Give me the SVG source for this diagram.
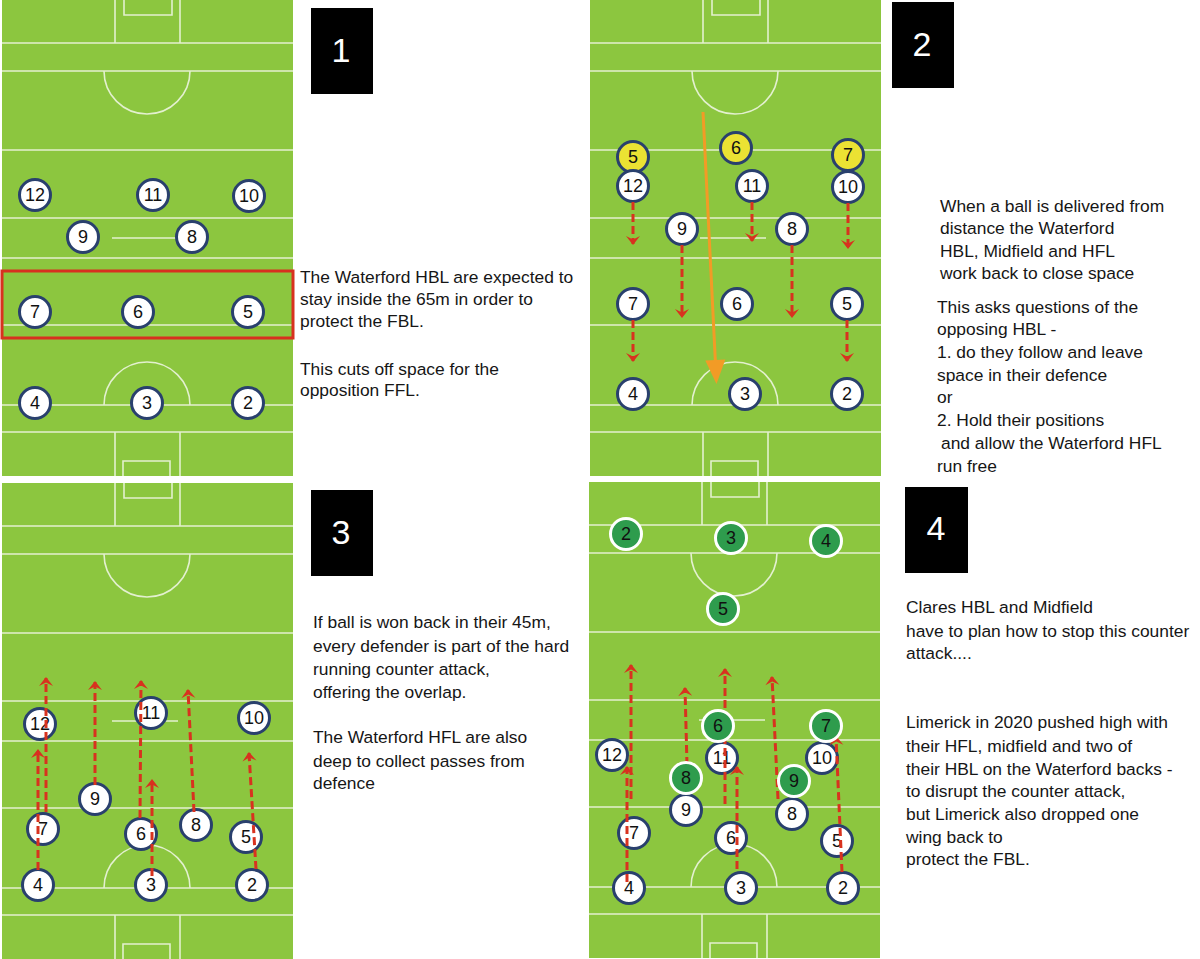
<svg xmlns="http://www.w3.org/2000/svg" xmlns:xlink="http://www.w3.org/1999/xlink" width="1200" height="959" viewBox="0 0 1200 959">
<style>
.bg{fill:#ffffff}
.turf{fill:#8cc63f}
.pl{stroke:#e3f0cf;stroke-width:1.6;fill:none}
.w circle{fill:#ffffff;stroke:#29406d;stroke-width:3}
.y circle{fill:#ebe233;stroke:#29406d;stroke-width:3}
.g circle{fill:#2e9c4d;stroke:#ffffff;stroke-width:3}
.num{font-family:"Liberation Sans",Arial,sans-serif;font-size:18px;fill:#111;text-anchor:middle}
.ra{stroke:#d8321f;stroke-width:3;stroke-dasharray:8 4;fill:none;marker-end:url(#chev)}
.oa{stroke:#f29b26;stroke-width:3;fill:none;marker-end:url(#oarr)}
.box{fill:#000}
.boxn{font-family:"Liberation Sans",Arial,sans-serif;font-size:34px;fill:#fff;text-anchor:middle}
.txt{font-family:"Liberation Sans",Arial,sans-serif;font-size:17.4px;fill:#161616}
</style>
<defs>
<marker id="chev" viewBox="-10 -8 12 16" refX="0" refY="0" markerWidth="12" markerHeight="16" markerUnits="userSpaceOnUse" orient="auto">
<path d="M1,0 L-8,-7 L-4.5,0 L-8,7 Z" fill="#d8321f"/>
</marker>
<marker id="oarr" viewBox="-15 -11 26 22" refX="0" refY="0" markerWidth="26" markerHeight="22" markerUnits="userSpaceOnUse" orient="auto">
<path d="M10,0 L-14,-10 L-14,10 Z" fill="#f29b26"/>
</marker>
<g id="pitch">
<rect class="turf" x="0" y="0" width="291" height="476"/>
<path class="pl" d="M0,43H291 M0,71H291 M0,150H291 M0,218H291 M0,258H291 M0,325H291 M0,405H291 M0,432H291"/>
<path class="pl" d="M113,0V43 M178,0V43 M122,0V15H170V0"/>
<path class="pl" d="M102,71 A43,43 0 0 0 188,71"/>
<path class="pl" d="M110,238H176"/>
<path class="pl" d="M102,405 A43,43 0 0 1 188,405"/>
<path class="pl" d="M113,476V432 M178,476V432 M121,476V461H168V476"/>
</g>
</defs>
<rect class="bg" x="0" y="0" width="1200" height="959"/>

<g id="pitch1">
<use xlink:href="#pitch" href="#pitch" transform="translate(2,0)"/>
<rect x="2" y="271" width="291" height="67" fill="none" stroke="#d8311f" stroke-width="3"/>
<g id="p1-12" class="w"><circle cx="35" cy="195" r="15.5"/><text class="num" x="35" y="201">12</text></g>
<g id="p1-11" class="w"><circle cx="153" cy="195" r="15.5"/><text class="num" x="153" y="201">11</text></g>
<g id="p1-10" class="w"><circle cx="249" cy="196" r="15.5"/><text class="num" x="249" y="202">10</text></g>
<g id="p1-9" class="w"><circle cx="83" cy="237" r="15.5"/><text class="num" x="83" y="243">9</text></g>
<g id="p1-8" class="w"><circle cx="192" cy="237" r="15.5"/><text class="num" x="192" y="243">8</text></g>
<g id="p1-7" class="w"><circle cx="35" cy="312" r="15.5"/><text class="num" x="35" y="318">7</text></g>
<g id="p1-6" class="w"><circle cx="138" cy="312" r="15.5"/><text class="num" x="138" y="318">6</text></g>
<g id="p1-5" class="w"><circle cx="248" cy="312" r="15.5"/><text class="num" x="248" y="318">5</text></g>
<g id="p1-4" class="w"><circle cx="35" cy="403" r="15.5"/><text class="num" x="35" y="409">4</text></g>
<g id="p1-3" class="w"><circle cx="147" cy="403" r="15.5"/><text class="num" x="147" y="409">3</text></g>
<g id="p1-2" class="w"><circle cx="248" cy="403" r="15.5"/><text class="num" x="248" y="409">2</text></g>
</g>

<g id="pitch2">
<use xlink:href="#pitch" href="#pitch" transform="translate(590,0)"/>
<g id="p2-y5" class="y"><circle cx="633" cy="157" r="15.5"/><text class="num" x="633" y="163">5</text></g>
<g id="p2-y6" class="y"><circle cx="736" cy="148" r="15.5"/><text class="num" x="736" y="154">6</text></g>
<g id="p2-y7" class="y"><circle cx="848" cy="155" r="15.5"/><text class="num" x="848" y="161">7</text></g>
<g id="p2-12" class="w"><circle cx="633" cy="186" r="15.5"/><text class="num" x="633" y="192">12</text></g>
<g id="p2-11" class="w"><circle cx="752" cy="186" r="15.5"/><text class="num" x="752" y="192">11</text></g>
<g id="p2-10" class="w"><circle cx="848" cy="187" r="15.5"/><text class="num" x="848" y="193">10</text></g>
<g id="p2-9" class="w"><circle cx="682" cy="229" r="15.5"/><text class="num" x="682" y="235">9</text></g>
<g id="p2-8" class="w"><circle cx="792" cy="229" r="15.5"/><text class="num" x="792" y="235">8</text></g>
<g id="p2-7" class="w"><circle cx="633" cy="304" r="15.5"/><text class="num" x="633" y="310">7</text></g>
<g id="p2-6" class="w"><circle cx="737" cy="304" r="15.5"/><text class="num" x="737" y="310">6</text></g>
<g id="p2-5" class="w"><circle cx="847" cy="304" r="15.5"/><text class="num" x="847" y="310">5</text></g>
<g id="p2-4" class="w"><circle cx="633" cy="394" r="15.5"/><text class="num" x="633" y="400">4</text></g>
<g id="p2-3" class="w"><circle cx="745" cy="394" r="15.5"/><text class="num" x="745" y="400">3</text></g>
<g id="p2-2" class="w"><circle cx="847" cy="394" r="15.5"/><text class="num" x="847" y="400">2</text></g>
</g>

<g id="pitch3">
<use xlink:href="#pitch" href="#pitch" transform="translate(2,483)"/>
<g id="p3-12" class="w"><circle cx="40" cy="724" r="15.5"/><text class="num" x="40" y="730">12</text></g>
<g id="p3-11" class="w"><circle cx="151" cy="713" r="15.5"/><text class="num" x="151" y="719">11</text></g>
<g id="p3-10" class="w"><circle cx="254" cy="718" r="15.5"/><text class="num" x="254" y="724">10</text></g>
<g id="p3-9" class="w"><circle cx="95" cy="799" r="15.5"/><text class="num" x="95" y="805">9</text></g>
<g id="p3-7" class="w"><circle cx="43" cy="829" r="15.5"/><text class="num" x="43" y="835">7</text></g>
<g id="p3-6" class="w"><circle cx="141" cy="834" r="15.5"/><text class="num" x="141" y="840">6</text></g>
<g id="p3-8" class="w"><circle cx="196" cy="825" r="15.5"/><text class="num" x="196" y="831">8</text></g>
<g id="p3-5" class="w"><circle cx="246" cy="837" r="15.5"/><text class="num" x="246" y="843">5</text></g>
<g id="p3-4" class="w"><circle cx="38" cy="885" r="15.5"/><text class="num" x="38" y="891">4</text></g>
<g id="p3-3" class="w"><circle cx="151" cy="885" r="15.5"/><text class="num" x="151" y="891">3</text></g>
<g id="p3-2" class="w"><circle cx="252" cy="885" r="15.5"/><text class="num" x="252" y="891">2</text></g>
</g>

<g id="pitch4">
<use xlink:href="#pitch" href="#pitch" transform="translate(589,482)"/>
<g id="p4-12" class="w"><circle cx="612" cy="755" r="15.5"/><text class="num" x="612" y="761">12</text></g>
<g id="p4-11" class="w"><circle cx="722" cy="758" r="15.5"/><text class="num" x="722" y="764">11</text></g>
<g id="p4-10" class="w"><circle cx="822" cy="758" r="15.5"/><text class="num" x="822" y="764">10</text></g>
<g id="p4-9" class="w"><circle cx="686" cy="810" r="15.5"/><text class="num" x="686" y="816">9</text></g>
<g id="p4-7" class="w"><circle cx="634" cy="833" r="15.5"/><text class="num" x="634" y="839">7</text></g>
<g id="p4-6" class="w"><circle cx="731" cy="838" r="15.5"/><text class="num" x="731" y="844">6</text></g>
<g id="p4-8" class="w"><circle cx="792" cy="814" r="15.5"/><text class="num" x="792" y="820">8</text></g>
<g id="p4-5" class="w"><circle cx="837" cy="841" r="15.5"/><text class="num" x="837" y="847">5</text></g>
<g id="p4-4" class="w"><circle cx="629" cy="888" r="15.5"/><text class="num" x="629" y="894">4</text></g>
<g id="p4-3" class="w"><circle cx="741" cy="888" r="15.5"/><text class="num" x="741" y="894">3</text></g>
<g id="p4-2" class="w"><circle cx="843" cy="888" r="15.5"/><text class="num" x="843" y="894">2</text></g>
</g>

<g id="connectors">
<line class="oa" x1="703" y1="112" x2="716" y2="374"/>
<line class="ra" x1="633" y1="202" x2="633" y2="244"/>
<line class="ra" x1="752" y1="202" x2="752" y2="241"/>
<line class="ra" x1="848" y1="203" x2="848" y2="248"/>
<line class="ra" x1="682" y1="245" x2="682" y2="317"/>
<line class="ra" x1="792" y1="245" x2="792" y2="317"/>
<line class="ra" x1="633" y1="320" x2="633" y2="361"/>
<line class="ra" x1="847" y1="320" x2="847" y2="361"/>

<line class="ra" x1="38" y1="870" x2="38" y2="750"/>
<line class="ra" x1="46" y1="812" x2="46" y2="678"/>
<line class="ra" x1="95" y1="785" x2="95" y2="682"/>
<line class="ra" x1="140" y1="818" x2="141" y2="681"/>
<line class="ra" x1="152" y1="876" x2="152" y2="780"/>
<line class="ra" x1="194" y1="812" x2="188" y2="690"/>
<line class="ra" x1="256" y1="869" x2="249" y2="753"/>

<line class="ra" x1="627" y1="882" x2="627" y2="767"/>
<line class="ra" x1="631" y1="799" x2="631" y2="665"/>
<line class="ra" x1="687" y1="765" x2="685" y2="688"/>
<line class="ra" x1="725" y1="804" x2="725" y2="669"/>
<line class="ra" x1="737" y1="869" x2="737" y2="767"/>
<line class="ra" x1="778" y1="799" x2="772" y2="677"/>
<line class="ra" x1="842" y1="872" x2="836" y2="737"/>
</g>

<g id="pitch4-green">
<g id="p4-g2" class="g"><circle cx="626" cy="534" r="15.5"/><text class="num" x="626" y="540">2</text></g>
<g id="p4-g3" class="g"><circle cx="731" cy="538" r="15.5"/><text class="num" x="731" y="544">3</text></g>
<g id="p4-g4" class="g"><circle cx="826" cy="541" r="15.5"/><text class="num" x="826" y="547">4</text></g>
<g id="p4-g5" class="g"><circle cx="723" cy="609" r="15.5"/><text class="num" x="723" y="615">5</text></g>
<g id="p4-g6" class="g"><circle cx="718" cy="726" r="15.5"/><text class="num" x="718" y="732">6</text></g>
<g id="p4-g7" class="g"><circle cx="826" cy="726" r="15.5"/><text class="num" x="826" y="732">7</text></g>
<g id="p4-g8" class="g"><circle cx="686" cy="778" r="15.5"/><text class="num" x="686" y="784">8</text></g>
<g id="p4-g9" class="g"><circle cx="794" cy="781" r="15.5"/><text class="num" x="794" y="787">9</text></g>
</g>

<g id="label1"><rect class="box" x="311" y="8" width="62" height="86"/><text class="boxn" x="341" y="62">1</text></g>
<g id="label2"><rect class="box" x="892" y="2" width="62" height="86"/><text class="boxn" x="922" y="56">2</text></g>
<g id="label3"><rect class="box" x="311" y="490" width="62" height="86"/><text class="boxn" x="341" y="544">3</text></g>
<g id="label4"><rect class="box" x="905" y="487" width="63" height="86"/><text class="boxn" x="936" y="540">4</text></g>

<g id="text1" class="txt">
<text x="300" y="283">The Waterford HBL are expected to</text>
<text x="300" y="305">stay inside the 65m in order to</text>
<text x="300" y="327">protect the FBL.</text>
<text x="300" y="375">This cuts off space for the</text>
<text x="300" y="396">opposition FFL.</text>
</g>
<g id="text2" class="txt">
<text x="940" y="212">When a ball is delivered from</text>
<text x="940" y="234">distance the Waterford</text>
<text x="940" y="257">HBL, Midfield and HFL</text>
<text x="940" y="279">work back to close space</text>
<text x="937" y="313">This asks questions of the</text>
<text x="937" y="335">opposing HBL -</text>
<text x="937" y="358">1. do they follow and leave</text>
<text x="937" y="381">space in their defence</text>
<text x="937" y="403">or</text>
<text x="937" y="426">2. Hold their positions</text>
<text x="941" y="449">and allow the Waterford HFL</text>
<text x="937" y="472">run free</text>
</g>
<g id="text3" class="txt">
<text x="313" y="628">If ball is won back in their 45m,</text>
<text x="313" y="652">every defender is part of the hard</text>
<text x="313" y="675">running counter attack,</text>
<text x="313" y="698">offering the overlap.</text>
<text x="313" y="743">The Waterford HFL are also</text>
<text x="313" y="767">deep to collect passes from</text>
<text x="313" y="789">defence</text>
</g>
<g id="text4" class="txt">
<text x="906" y="613">Clares HBL and Midfield</text>
<text x="906" y="637">have to plan how to stop this counter</text>
<text x="906" y="659">attack....</text>
<text x="906" y="728">Limerick in 2020 pushed high with</text>
<text x="906" y="752">their HFL, midfield and two of</text>
<text x="906" y="775">their HBL on the Waterford backs -</text>
<text x="906" y="797">to disrupt the counter attack,</text>
<text x="906" y="820">but Limerick also dropped one</text>
<text x="906" y="843">wing back to</text>
<text x="906" y="865">protect the FBL.</text>
</g>
</svg>
